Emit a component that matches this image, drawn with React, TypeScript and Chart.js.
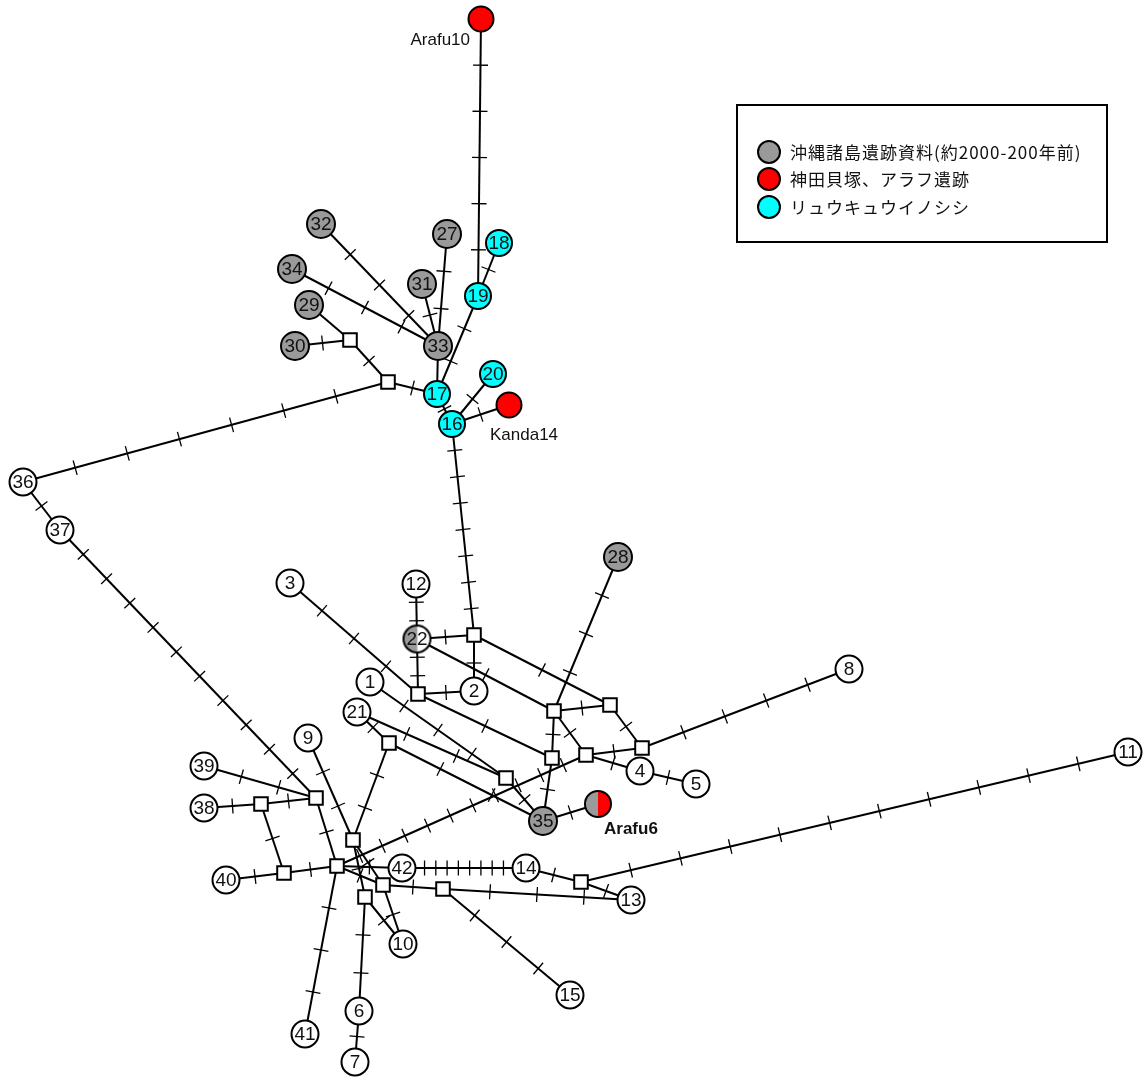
import React, { useEffect, useRef } from 'react';
import { Chart, registerables } from 'chart.js';

Chart.register(...registerables);

const W = 1146;
const H = 1080;

// Haplotype nodes
const nodeNames = ['Arafu10','18','19','27','32','34','31','29','33','30','20','17','Kanda14','16','36','37','28','3','12','22','2','1','8','21','9','4','5','39','11','38','35','Arafu6','42','14','40','13','10','15','6','41','7'];
const nodeX = [481,499,478,447,321,292,422,309,438,295,493,437,509,452,23,60,618,290,416,417,474,370,849,357,308,640,696,204,1128,204,543,598,402,526,226,631,403,570,359,305,355];
const nodeY = [19,243,296,234,224,269,284,305,346,346,374,394,405,424,482,530,557,583,584,639,691,682,669,712,738,771,784,766,752,808,821,804,868,868,880,900,944,995,1011,1034,1062];
const nodeGroup = ['red','cyan','cyan','gray','gray','gray','gray','gray','gray','gray','cyan','cyan','red','cyan','white','white','gray','white','white','grayWhite','white','white','white','white','white','white','white','white','white','white','gray','grayRed','white','white','white','white','white','white','white','white','white'];

// Median vectors (unsampled haplotypes)
const mvNames = ['m1','m2','m3','m4','m5','m6','m7','m8','m9','m10','m11','m12','m13','m14','m15','m16','m17','m18','m19','m20'];
const mvX = [350,388,474,418,554,610,642,586,552,506,389,316,261,284,337,353,383,365,443,581];
const mvY = [340,382,635,694,711,705,748,755,758,778,743,798,804,873,866,840,885,897,889,882];

// Links and number of mutation marks
const edgeFrom = ['Arafu10','18','19','27','31','32','34','33','29','30','m1','m2','m2','17','16','16','16','36','37','39','m13','38','m13','40','m14','m12','m15','m15','m15','m15','9','m11','21','m11','21','1','m16','m16','m17','m18','m18','6','m17','m19','m19','42','14','m20','m20','12','22','22','3','m4','m3','m3','22','m4','28','m5','m5','m5','m6','m8','m8','4','m7','m9','m10','35'];
const edgeTo =   ['19','19','17','33','33','33','33','17','m1','m1','m2','17','36','16','20','Kanda14','m3','37','m12','m12','m12','m13','m14','m14','m15','m15','41','42','m17','m8','m16','m16','m11','35','m10','m10','m17','m18','10','10','6','7','m19','13','15','14','m20','13','11','22','m4','m3','m4','2','2','m6','m5','m9','m5','m6','m9','m8','m7','m7','4','5','8','35','35','Arafu6'];
const edgeTicks = [5,1,2,2,1,3,3,0,0,1,1,1,6,1,1,1,7,1,10,2,1,1,1,1,1,1,3,1,1,10,2,2,1,2,2,3,1,1,1,1,2,1,1,3,3,10,1,1,10,2,2,1,3,1,1,1,1,1,3,1,1,1,1,1,1,1,4,1,1,1];

// Legend
const legendLabels = ['沖縄諸島遺跡資料(約2000-200年前)', '神田貝塚、アラフ遺跡', 'リュウキュウイノシシ'];
const legendGroups = ['gray', 'red', 'cyan'];

// Styles
const groupStyle: Record<string, { fill: string; r: number; left?: string; right?: string }> = {
  gray: { fill: '#9a9a9a', r: 14 },
  red: { fill: '#ff0000', r: 12.5 },
  cyan: { fill: '#00ffff', r: 13 },
  white: { fill: '#ffffff', r: 13.5 },
  grayWhite: { fill: '#ffffff', r: 13.5, left: '#9a9a9a', right: '#ffffff' },
  grayRed: { fill: '#ff0000', r: 13, left: '#9a9a9a', right: '#ff0000' },
};
const extLabelStyle: Record<string, { dx: number; dy: number; align: CanvasTextAlign; bold: boolean; size: number }> = {
  Arafu10: { dx: -11, dy: 21, align: 'right', bold: false, size: 17 },
  Kanda14: { dx: -19, dy: 30, align: 'left', bold: false, size: 17 },
  Arafu6: { dx: 6, dy: 25, align: 'left', bold: true, size: 17 },
};
const legendBox = { x: 737, y: 105, w: 370, h: 137, cx: 769, ys: [152, 179, 207], r: 11, tx: 790 };

function pos(name: string) {
  let i = nodeNames.indexOf(name);
  if (i >= 0) return { x: nodeX[i], y: nodeY[i] };
  i = mvNames.indexOf(name);
  return { x: mvX[i], y: mvY[i] };
}

function halfNode(left: string, right: string, r: number) {
  const c = document.createElement('canvas');
  const s = Math.ceil(2 * r + 4);
  c.width = s;
  c.height = s;
  const g = c.getContext('2d')!;
  const m = s / 2;
  g.beginPath(); g.moveTo(m, m); g.arc(m, m, r, Math.PI / 2, Math.PI * 1.5); g.closePath(); g.fillStyle = left; g.fill();
  g.beginPath(); g.moveTo(m, m); g.arc(m, m, r, -Math.PI / 2, Math.PI / 2); g.closePath(); g.fillStyle = right; g.fill();
  g.beginPath(); g.arc(m, m, r, 0, Math.PI * 2); g.lineWidth = 2; g.strokeStyle = '#000'; g.stroke();
  return c;
}

export default function App() {
  const ref = useRef<HTMLCanvasElement>(null);
  useEffect(() => {
    document.body.style.margin = '0';
    const canvas = ref.current!;
    const pointStyles = nodeGroup.map((g) => {
      const st = groupStyle[g];
      return st.left ? halfNode(st.left, st.right!, st.r) : 'circle';
    });

    const netPlugin = {
      id: 'net',
      beforeDatasetDraw(chart: any, args: any) {
        if (args.index !== 1) return;
        const xs = chart.scales.x;
        const ys = chart.scales.y;
        const ctx = chart.ctx as CanvasRenderingContext2D;
        ctx.save();
        ctx.strokeStyle = '#000';
        ctx.lineWidth = 1.3;
        edgeFrom.forEach((f, i) => {
          const n = edgeTicks[i];
          if (!n) return;
          const a = pos(f);
          const b = pos(edgeTo[i]);
          const x0 = xs.getPixelForValue(a.x), y0 = ys.getPixelForValue(a.y);
          const x1 = xs.getPixelForValue(b.x), y1 = ys.getPixelForValue(b.y);
          const len = Math.hypot(x1 - x0, y1 - y0);
          const nx = -(y1 - y0) / len, ny = (x1 - x0) / len;
          const hl = 7.5;
          for (let k = 1; k <= n; k++) {
            const t = k / (n + 1);
            const cx = x0 + (x1 - x0) * t, cy = y0 + (y1 - y0) * t;
            ctx.beginPath();
            ctx.moveTo(cx - nx * hl, cy - ny * hl);
            ctx.lineTo(cx + nx * hl, cy + ny * hl);
            ctx.stroke();
          }
        });
        ctx.restore();
      },
      afterDatasetsDraw(chart: any) {
        const ctx = chart.ctx as CanvasRenderingContext2D;
        const meta = chart.getDatasetMeta(0);
        ctx.save();
        ctx.fillStyle = '#111';
        ctx.textAlign = 'center';
        ctx.textBaseline = 'middle';
        ctx.font = '19px "Liberation Sans", Arial, sans-serif';
        nodeNames.forEach((name, i) => {
          const el = meta.data[i];
          if (/^\d+$/.test(name)) {
            ctx.fillText(name, el.x, el.y + 1);
          } else {
            const st = extLabelStyle[name];
            ctx.save();
            ctx.font = `${st.bold ? 'bold ' : ''}${st.size}px "Liberation Sans", Arial, sans-serif`;
            ctx.textAlign = st.align;
            ctx.fillText(name, el.x + st.dx, el.y + st.dy);
            ctx.restore();
          }
        });
        // legend
        ctx.lineWidth = 2;
        ctx.strokeStyle = '#000';
        ctx.strokeRect(legendBox.x, legendBox.y, legendBox.w, legendBox.h);
        legendLabels.forEach((lab, i) => {
          const y = legendBox.ys[i];
          ctx.beginPath();
          ctx.arc(legendBox.cx, y, legendBox.r, 0, Math.PI * 2);
          ctx.fillStyle = groupStyle[legendGroups[i]].fill;
          ctx.fill();
          ctx.stroke();
          ctx.fillStyle = '#111';
          ctx.textAlign = 'left';
          ctx.font = '17px "Noto Sans CJK JP", sans-serif';
          (ctx as any).letterSpacing = '1px';
          ctx.fillText(lab, legendBox.tx, y + 1);
          (ctx as any).letterSpacing = '0px';
        });
        ctx.restore();
      },
    };

    const nodesDs = {
      data: nodeNames.map((_, i) => ({ x: nodeX[i], y: nodeY[i] })),
      pointRadius: nodeGroup.map((g) => groupStyle[g].r),
      pointBackgroundColor: nodeGroup.map((g) => groupStyle[g].fill),
      pointBorderColor: '#000',
      pointBorderWidth: 2,
      pointStyle: pointStyles,
      order: 0,
      clip: false,
    };
    const mvDs = {
      data: mvNames.map((_, i) => ({ x: mvX[i], y: mvY[i] })),
      pointRadius: 9.6,
      pointStyle: 'rect',
      pointBackgroundColor: '#fff',
      pointBorderColor: '#000',
      pointBorderWidth: 2,
      order: 1,
      clip: false,
    };
    const edgeDs = edgeFrom.map((f, i) => ({
      data: [pos(f), pos(edgeTo[i])],
      showLine: true,
      borderColor: '#000',
      borderWidth: 2,
      pointRadius: 0,
      order: 2,
      clip: false,
    }));

    const chart = new Chart(canvas, {
      type: 'scatter',
      data: { datasets: [nodesDs, mvDs, ...edgeDs] as any },
      options: {
        responsive: false,
        animation: false,
        events: [],
        layout: { padding: 0, autoPadding: false } as any,
        scales: {
          x: { type: 'linear', min: 0, max: W, display: false },
          y: { type: 'linear', min: 0, max: H, reverse: true, display: false },
        },
        plugins: { legend: { display: false }, tooltip: { enabled: false } },
      },
      plugins: [netPlugin as any],
    });
    return () => chart.destroy();
  }, []);
  return <canvas ref={ref} width={W} height={H} style={{ display: 'block', width: W, height: H }} />;
}
